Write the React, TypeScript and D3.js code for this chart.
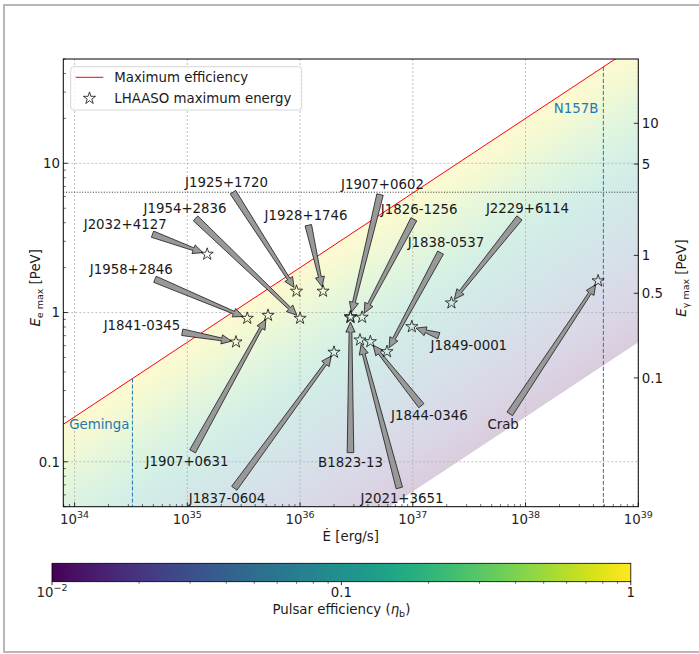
import React from 'react';
import * as d3 from 'd3';

// Pulsars with LHAASO counterparts: spin-down power (erg/s) and maximum electron energy (PeV)
const pulsarNames = [
  'J2032+4127', 'J1958+2846', 'J1841-0345', 'J1907+0631', 'J1925+1720', 'J1954+2836',
  'J1928+1746', 'J1907+0602', 'B1823-13', 'J1826-1256', 'J1837-0604', 'J2021+3651',
  'J1844-0346', 'J1838-0537', 'J1849-0001', 'J2229+6114', 'Crab',
];
const spinDownPower = [
  1.5e35, 3.4e35, 2.7e35, 5.2e35, 9.3e35, 1.0e36,
  1.6e36, 2.8e36, 2.8e36, 3.55e36, 2.0e36, 3.4e36,
  4.2e36, 5.9e36, 9.8e36, 2.2e37, 4.4e38,
];
const electronEmax = [
  2.46, 0.915, 0.635, 0.958, 1.39, 0.915,
  1.39, 0.94, 0.925, 0.93, 0.542, 0.655,
  0.638, 0.547, 0.804, 1.16, 1.63,
];

// Reference pulsars marked with vertical lines
const referenceNames = ['Geminga', 'N157B'];
const referenceEdot = [3.26e34, 4.9e38];

// Horizontal reference energy (PeV)
const referenceEnergy = 6.4;

// Axis ticks
const xTickExponents = [34, 35, 36, 37, 38, 39];
const yTickValues = [0.1, 1, 10];
const yTickLabels = ['0.1', '1', '10'];
const gammaTickValues = [10, 5, 1, 0.5, 0.1];
const gammaTickLabels = ['10', '5', '1', '0.5', '0.1'];
const effTickValues = [0.01, 0.1, 1];

// Placement of the annotation labels relative to their star, in px
const labelOffset: Record<string, [number, number]> = {
  'J2032+4127': [-82, -30],
  'J1958+2846': [-116, -49],
  'J1841-0345': [-94, -17],
  'J1907+0631': [-81, 146],
  'J1925+1720': [-70, -109],
  'J1954+2836': [-115, -110],
  'J1928+1746': [-17, -76],
  'J1907+0602': [32, -132],
  'B1823-13': [0, 145],
  'J1826-1256': [57, -108],
  'J1837-0604': [-107, 146],
  'J2021+3651': [42, 158],
  'J1844-0346': [59, 74],
  'J1838-0537': [59, -109],
  'J1849-0001': [57, 19],
  'J2229+6114': [76, -95],
  'Crab': [-95, 143],
};

const W = 699;
const H = 654;
const FONT = 'DejaVu Sans, sans-serif';
const FS = 13.33;
const plot = { left: 63.3, right: 638.3, top: 59, bottom: 506.7 };
const cbar = { left: 52, right: 630.8, top: 563.3, bottom: 581.7 };
const BLUE = '#1f77b4';

const x = d3.scaleLog().domain([10 ** 33.9, 1e39]).range([plot.left, plot.right]);
const y = d3.scaleLog().domain([0.05, 50]).range([plot.bottom, plot.top]);
const cx = d3.scaleLog().domain([0.01, 1]).range([cbar.left, cbar.right]);

// Maximum electron energy for a given pulsar efficiency
const eMax = (edot: number, eta: number) => 2 * eta * Math.sqrt(edot / 1e36);
// Electron energy corresponding to a given gamma-ray energy (Klein-Nishina regime)
const gammaToElectron = (eg: number) => {
  const L = Math.log10(eg);
  return 10 ** (0.383 + 0.853 * L + 0.032 * L * L);
};

let measureCtx: CanvasRenderingContext2D | null = null;
function textWidth(s: string, size = FS) {
  if (typeof document !== 'undefined') {
    if (!measureCtx) measureCtx = document.createElement('canvas').getContext('2d');
    if (measureCtx) {
      measureCtx.font = `${size}px DejaVu Sans`;
      return measureCtx.measureText(s).width;
    }
  }
  return s.length * size * 0.6;
}

function arrowPoints(x0: number, y0: number, x1: number, y1: number) {
  const dx = x1 - x0;
  const dy = y1 - y0;
  const L = Math.hypot(dx, dy);
  const ux = dx / L;
  const uy = dy / L;
  const nx = -uy;
  const ny = ux;
  const headLen = Math.min(10, L * 0.45);
  const headW = 4.6;
  const tailW = 3.3;
  const neckW = 1.4;
  const bx = x1 - ux * headLen;
  const by = y1 - uy * headLen;
  const pts: [number, number][] = [
    [x0 + nx * tailW, y0 + ny * tailW],
    [bx + nx * neckW, by + ny * neckW],
    [bx + nx * headW, by + ny * headW],
    [x1, y1],
    [bx - nx * headW, by - ny * headW],
    [bx - nx * neckW, by - ny * neckW],
    [x0 - nx * tailW, y0 - ny * tailW],
  ];
  return pts.map((p) => p.map((v) => v.toFixed(2)).join(',')).join(' ');
}

const star = d3.symbol().type(d3.symbolStar).size(46)() as string;

function Pow10({ x: px, y: py, exp, anchor = 'middle' }: { x: number; y: number; exp: string; anchor?: string }) {
  return (
    <text x={px} y={py} fontFamily={FONT} fontSize={FS} textAnchor={anchor} fill="#262626">
      10
      <tspan fontSize={9.5} dy={-5.5}>{exp}</tspan>
    </text>
  );
}

export default function App() {
  // Efficiency shading: gradient perpendicular to lines of constant efficiency
  const p1: [number, number] = [x(1e36), y(eMax(1e36, 1))];
  const p1b: [number, number] = [x(1e37), y(eMax(1e37, 1))];
  const dl = Math.hypot(p1b[0] - p1[0], p1b[1] - p1[1]);
  const d: [number, number] = [(p1b[0] - p1[0]) / dl, (p1b[1] - p1[1]) / dl];
  const n: [number, number] = [-d[1], d[0]];
  const q: [number, number] = [x(1e36), y(eMax(1e36, 0.01))];
  const dist = (q[0] - p1[0]) * n[0] + (q[1] - p1[1]) * n[1];
  const p2: [number, number] = [p1[0] + n[0] * dist, p1[1] + n[1] * dist];
  const nStops = 24;
  const stops = d3.range(nStops + 1).map((k) => ({
    offset: k / nStops,
    color: d3.interpolateViridis(1 - k / nStops),
  }));

  const edotGrid = [10 ** 33.5, 1e40];
  const upper = edotGrid.map((e) => [x(e), y(eMax(e, 1))]);
  const lower = edotGrid.slice().reverse().map((e) => [x(e), y(eMax(e, 0.01))]);
  const shadePts = [...upper, ...lower].map((p) => p.join(',')).join(' ');

  const maxLine = d3.line<number>().x((e) => x(e)).y((e) => y(eMax(e, 1)))(edotGrid) as string;

  // Minor ticks
  const xMinor: number[] = [];
  for (let dec = 33; dec <= 38; dec++) for (let m = 2; m <= 9; m++) {
    const v = m * 10 ** dec;
    if (v >= x.domain()[0] && v <= x.domain()[1]) xMinor.push(v);
  }
  const yMinor: number[] = [];
  for (let dec = -2; dec <= 1; dec++) for (let m = 2; m <= 9; m++) {
    const v = m * 10 ** dec;
    if (v >= 0.05 - 1e-9 && v <= 50 + 1e-9 && !yTickValues.includes(v)) yMinor.push(v);
  }
  const effMinor: number[] = [];
  for (let dec = -2; dec <= -1; dec++) for (let m = 2; m <= 9; m++) effMinor.push(m * 10 ** dec);

  const cbarStops = d3.range(65).map((k) => ({ offset: k / 64, color: d3.interpolateViridis(k / 64) }));

  return (
    <svg width={W} height={H} style={{ position: 'absolute', left: 0, top: 0, background: '#fff' }}>
      <defs>
        <linearGradient id="effShade" gradientUnits="userSpaceOnUse" x1={p1[0]} y1={p1[1]} x2={p2[0]} y2={p2[1]}>
          {stops.map((s, i) => (
            <stop key={i} offset={s.offset} stopColor={s.color} stopOpacity={0.2} />
          ))}
        </linearGradient>
        <linearGradient id="cbarGrad" x1="0" y1="0" x2="1" y2="0">
          {cbarStops.map((s, i) => (
            <stop key={i} offset={s.offset} stopColor={s.color} />
          ))}
        </linearGradient>
        <clipPath id="plotClip">
          <rect x={plot.left} y={plot.top} width={plot.right - plot.left} height={plot.bottom - plot.top} />
        </clipPath>
      </defs>

      <rect x={0} y={0} width={W} height={H} fill="#fff" />
      {/* figure frame */}
      <rect x={4} y={5} width={W + 10} height={647} fill="none" stroke="#b8b8b8" strokeWidth={2} />

      <g clipPath="url(#plotClip)">
        <polygon points={shadePts} fill="url(#effShade)" />

        {/* grid */}
        {xTickExponents.map((e) => (
          <line key={'gx' + e} x1={x(10 ** e)} x2={x(10 ** e)} y1={plot.top} y2={plot.bottom}
            stroke="#b0b0b0" strokeWidth={0.8} strokeDasharray="2,2" />
        ))}
        {yTickValues.map((v) => (
          <line key={'gy' + v} x1={plot.left} x2={plot.right} y1={y(v)} y2={y(v)}
            stroke="#b0b0b0" strokeWidth={0.8} strokeDasharray="2,2" />
        ))}

        <path d={maxLine} stroke="#ff0000" strokeWidth={1} fill="none" />

        <line x1={plot.left} x2={plot.right} y1={y(referenceEnergy)} y2={y(referenceEnergy)}
          stroke="#333" strokeWidth={1} strokeDasharray="1,1.7" />

        {referenceEdot.map((e, i) => (
          <line key={referenceNames[i]} x1={x(e)} x2={x(e)} y1={y(eMax(e, 1))} y2={plot.bottom}
            stroke={BLUE} strokeWidth={1} strokeDasharray="4,2" />
        ))}
      </g>

      {/* reference labels */}
      <text x={x(referenceEdot[0]) - 3} y={424 + 4.8} fontFamily={FONT} fontSize={FS} fill={BLUE} textAnchor="end">
        {referenceNames[0]}
      </text>
      <text x={x(referenceEdot[1]) - 5} y={107.7 + 4.8} fontFamily={FONT} fontSize={FS} fill={BLUE} textAnchor="end">
        {referenceNames[1]}
      </text>

      {/* annotations */}
      {pulsarNames.map((name, i) => {
        const sx = x(spinDownPower[i]);
        const sy = y(electronEmax[i]);
        const [ox, oy] = labelOffset[name];
        const tx = sx + ox;
        const ty = sy + oy;
        const hw = textWidth(name) / 2 + 2;
        const hh = 10;
        const vx = sx - tx;
        const vy = sy - ty;
        const t = Math.min(Math.abs(hw / (vx || 1e-9)), Math.abs(hh / (vy || 1e-9)));
        const tailX = tx + vx * t;
        const tailY = ty + vy * t;
        const L = Math.hypot(sx - tailX, sy - tailY);
        const tipX = sx - ((sx - tailX) / L) * 4.5;
        const tipY = sy - ((sy - tailY) / L) * 4.5;
        return (
          <g key={name}>
            <polygon points={arrowPoints(tailX, tailY, tipX, tipY)} fill="#999" stroke="#1a1a1a" strokeWidth={0.8}
              strokeLinejoin="miter" />
            <text x={tx} y={ty + 4.8} fontFamily={FONT} fontSize={FS} textAnchor="middle" fill="#1a1a1a">{name}</text>
          </g>
        );
      })}

      {/* stars */}
      {pulsarNames.map((name, i) => (
        <path key={'s' + name} d={star} transform={`translate(${x(spinDownPower[i])},${y(electronEmax[i])})`}
          fill="none" stroke="#111" strokeWidth={0.8} />
      ))}

      {/* legend */}
      <g>
        <rect x={70.7} y={66.7} width={231} height={43.3} rx={3} fill="#fff" fillOpacity={0.8} stroke="#d6d6d6" strokeWidth={1} />
        <line x1={75.7} x2={103.3} y1={77.3} y2={77.3} stroke="#ff0000" strokeWidth={1} />
        <text x={114.3} y={77.3 + 4.8} fontFamily={FONT} fontSize={FS} fill="#1a1a1a">Maximum efficiency</text>
        <path d={star} transform="translate(89.5,98.3)" fill="none" stroke="#111" strokeWidth={0.8} />
        <text x={114.3} y={98.3 + 4.8} fontFamily={FONT} fontSize={FS} fill="#1a1a1a">LHAASO maximum energy</text>
      </g>

      {/* axes frame */}
      <rect x={plot.left} y={plot.top} width={plot.right - plot.left} height={plot.bottom - plot.top}
        fill="none" stroke="#000" strokeWidth={1} />

      {/* bottom axis */}
      {xTickExponents.map((e) => (
        <g key={'xt' + e}>
          <line x1={x(10 ** e)} x2={x(10 ** e)} y1={plot.bottom} y2={plot.bottom - 4.5} stroke="#000" strokeWidth={0.8} />
          <Pow10 x={x(10 ** e)} y={523.5} exp={String(e)} />
        </g>
      ))}
      {xMinor.map((v) => (
        <line key={'xm' + v} x1={x(v)} x2={x(v)} y1={plot.bottom} y2={plot.bottom - 2.6} stroke="#000" strokeWidth={0.6} />
      ))}
      <text x={(plot.left + plot.right) / 2} y={541} fontFamily={FONT} fontSize={FS} textAnchor="middle" fill="#1a1a1a">
        Ė [erg/s]
      </text>

      {/* left axis */}
      {yTickValues.map((v, i) => (
        <g key={'yt' + v}>
          <line x1={plot.left} x2={plot.left + 4.5} y1={y(v)} y2={y(v)} stroke="#000" strokeWidth={0.8} />
          <text x={60} y={y(v) + 4.8} fontFamily={FONT} fontSize={FS} textAnchor="end" fill="#1a1a1a">{yTickLabels[i]}</text>
        </g>
      ))}
      {yMinor.map((v) => (
        <line key={'ym' + v} x1={plot.left} x2={plot.left + 2.6} y1={y(v)} y2={y(v)} stroke="#000" strokeWidth={0.6} />
      ))}
      <text transform={`translate(40,${(plot.top + plot.bottom) / 2 + 5}) rotate(-90)`} fontFamily={FONT} fontSize={FS}
        textAnchor="middle" fill="#1a1a1a">
        <tspan fontStyle="italic">E</tspan>
        <tspan fontSize={9.5} dy={3}>e max</tspan>
        <tspan dy={-3}> [PeV]</tspan>
      </text>

      {/* right axis: gamma-ray energy */}
      {gammaTickValues.map((v, i) => {
        const yy = y(gammaToElectron(v));
        return (
          <g key={'gt' + v}>
            <line x1={plot.right} x2={plot.right - 4.5} y1={yy} y2={yy} stroke="#000" strokeWidth={0.8} />
            <text x={641.7} y={yy + 4.8} fontFamily={FONT} fontSize={FS} fill="#1a1a1a">{gammaTickLabels[i]}</text>
          </g>
        );
      })}
      <text transform={`translate(686,278) rotate(-90)`} fontFamily={FONT} fontSize={FS} textAnchor="middle" fill="#1a1a1a">
        <tspan fontStyle="italic">E</tspan>
        <tspan fontSize={9.5} dy={3}>γ max</tspan>
        <tspan dy={-3}> [PeV]</tspan>
      </text>

      {/* colorbar */}
      <rect x={cbar.left} y={cbar.top} width={cbar.right - cbar.left} height={cbar.bottom - cbar.top}
        fill="url(#cbarGrad)" stroke="#000" strokeWidth={0.8} />
      {effTickValues.map((v) => (
        <line key={'ct' + v} x1={cx(v)} x2={cx(v)} y1={cbar.bottom} y2={cbar.bottom + 3.5} stroke="#000" strokeWidth={0.8} />
      ))}
      {effMinor.map((v) => (
        <line key={'cm' + v} x1={cx(v)} x2={cx(v)} y1={cbar.bottom} y2={cbar.bottom + 2} stroke="#000" strokeWidth={0.6} />
      ))}
      <Pow10 x={cx(effTickValues[0])} y={596.5} exp="−2" />
      <text x={cx(effTickValues[1])} y={596.5} fontFamily={FONT} fontSize={FS} textAnchor="middle" fill="#1a1a1a">0.1</text>
      <text x={cx(effTickValues[2])} y={596.5} fontFamily={FONT} fontSize={FS} textAnchor="middle" fill="#1a1a1a">1</text>
      <text x={(cbar.left + cbar.right) / 2} y={613.5} fontFamily={FONT} fontSize={FS} textAnchor="middle" fill="#1a1a1a">
        Pulsar efficiency (<tspan fontStyle="italic">η</tspan>
        <tspan fontSize={9.5} dy={3}>b</tspan>
        <tspan dy={-3}>)</tspan>
      </text>
    </svg>
  );
}
